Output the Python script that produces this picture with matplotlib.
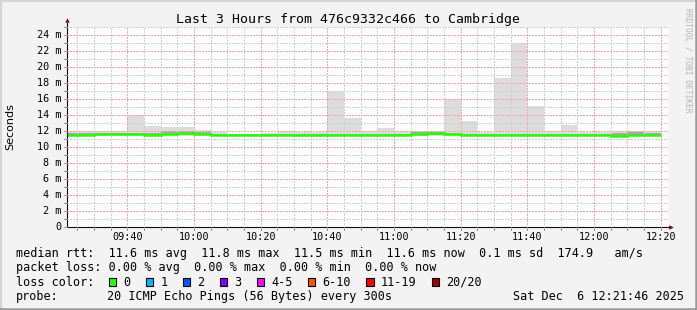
import numpy as np
import matplotlib
matplotlib.use("Agg")
import matplotlib.pyplot as plt
from matplotlib.patches import Rectangle
from matplotlib.lines import Line2D

W, H = 697, 310

# 5 minute steps, first one starts at 09:20
first_start = "09:20"
step_min = 5
smoke_max = [12.0, 12.0, 12.0, 12.0, 14.0, 12.65, 12.5, 12.5, 12.15, 11.95, 11.7, 11.7,
             11.8, 12.0, 11.9, 11.9, 17.0, 13.65, 12.05, 12.45, 12.0, 12.1, 12.05, 16.0,
             13.3, 11.9, 18.7, 23.0, 15.2, 12.0, 12.8, 11.9, 11.9, 12.0, 12.05, 12.05]
smoke_min = [11.45, 11.45, 11.45, 11.45, 11.45, 11.4, 11.45, 11.45, 11.45, 11.45, 11.45, 11.45,
             11.45, 11.45, 11.3, 11.35, 11.45, 11.45, 11.45, 11.45, 11.45, 11.4, 11.45, 11.45,
             11.45, 11.45, 11.45, 11.45, 11.45, 11.45, 11.45, 11.45, 11.45, 11.3, 11.45, 11.45]
inner_hi = [11.8, 11.8, 11.8, 11.8, 11.8, 11.75, 12.0, 12.05, 11.95, 11.7, 11.65, 11.65,
            11.65, 11.7, 11.7, 11.7, 11.7, 11.7, 11.7, 11.7, 11.7, 11.95, 11.95, 11.85,
            11.7, 11.7, 11.7, 11.7, 11.7, 11.7, 11.7, 11.7, 11.7, 11.85, 11.9, 11.8]
inner_lo = [11.5, 11.5, 11.5, 11.5, 11.5, 11.45, 11.55, 11.6, 11.5, 11.45, 11.45, 11.45,
            11.45, 11.45, 11.4, 11.45, 11.45, 11.45, 11.45, 11.45, 11.45, 11.5, 11.6, 11.5,
            11.45, 11.45, 11.45, 11.45, 11.45, 11.45, 11.45, 11.45, 11.45, 11.35, 11.5, 11.45]
median = [11.6, 11.6, 11.62, 11.62, 11.62, 11.55, 11.7, 11.8, 11.65, 11.55, 11.55, 11.55,
          11.55, 11.58, 11.55, 11.55, 11.55, 11.55, 11.55, 11.55, 11.55, 11.7, 11.8, 11.62,
          11.55, 11.55, 11.58, 11.58, 11.55, 11.58, 11.55, 11.55, 11.55, 11.42, 11.55, 11.55]

xtick_labels = ["09:40", "10:00", "10:20", "10:40", "11:00", "11:20", "11:40", "12:00", "12:20"]
ytick_values = list(range(0, 25, 2))

title = "Last 3 Hours from 476c9332c466 to Cambridge"
rtt_stats = [("11.6", "avg"), ("11.8", "max"), ("11.5", "min"), ("11.6", "now")]
rtt_sd = "0.1"
rtt_am = "174.9"
loss_stats = [("0.00", "avg"), ("0.00", "max"), ("0.00", "min"), ("0.00", "now")]
loss_labels = ["0", "1", "2", "3", "4-5", "6-10", "11-19", "20/20"]
loss_colors = ["#26ff00", "#00b8ff", "#0059ff", "#7e00ff", "#ff00ff", "#ff5500", "#ff0000", "#a00000"]
probe_text = "20 ICMP Echo Pings (56 Bytes) every 300s"
stamp = "Sat Dec  6 12:21:46 2025"


def to_min(s):
    h, m = s.split(":")
    return int(h) * 60 + int(m) - 9 * 60


def fx(x):
    return x / W


def fy(y):
    return 1 - y / H


mono = "DejaVu Sans Mono"
fig = plt.figure(figsize=(W / 100, H / 100), dpi=100, facecolor="#f3f3f3")

# plot area in pixels: x 66.7..668, y 27.3..227.3
ax = fig.add_axes([fx(66.7), fy(227.3), (668 - 66.7) / W, 200 / H])
ax.set_facecolor("white")
x0 = to_min("09:21") + 46 / 60
ax.set_xlim(x0, x0 + 180.4)
ax.set_ylim(0, 25)

edges = to_min(first_start) + step_min * np.arange(len(median) + 1)
ax.stairs(smoke_max, edges, baseline=smoke_min, fill=True, color="#dcdcdc", lw=0, zorder=1)
ax.stairs(inner_hi, edges, baseline=inner_lo, fill=True, color="#a8a8a8", lw=0, zorder=1.1)

# grid, dotted like rrdtool
dots = (0, (2, 2))
minor_c = "#cfcfcf"
major_c = "#eeaaaa"
for v in range(1, 26):
    major = v % 2 == 0 and v < 25
    ax.axhline(v, color=major_c if major else minor_c, lw=0.72, ls=dots,
               antialiased=False, zorder=2)
tmaj = [to_min(t) for t in xtick_labels]
for t in np.arange(25, 205, 5):
    ax.axvline(t, color=major_c if t in tmaj else minor_c, lw=0.72, ls=dots,
               antialiased=False, zorder=2)

ax.stairs(median, edges, baseline=None, color="#26ff00", lw=1.8, zorder=3)

for s in ax.spines.values():
    s.set_visible(False)
ax.set_xticks([])
ax.set_yticks([])

# axes with arrows
xa = ax.get_xlim()[0]
ax.plot([xa, xa], [0, 25.6], color="#101010", lw=0.8, clip_on=False, zorder=4)
ax.plot([xa, xa + (670 - 66.7) / 3.3333], [0, 0], color="#101010", lw=0.8, clip_on=False, zorder=4)
ax.plot([xa], [25.95], marker="^", ms=3.2, color="#800000", mew=0, clip_on=False, zorder=5)
ax.plot([xa + (671.5 - 66.7) / 3.3333], [0], marker=">", ms=3.2, color="#800000", mew=0,
        clip_on=False, zorder=5)

# small tick marks outside the axes
for t in np.arange(25, 205, 5):
    xp = 66.7 + (t - x0) * 3.3333
    c = "#e08080" if t in tmaj else "#999999"
    fig.add_artist(Line2D([fx(xp)] * 2, [fy(227.3), fy(230)], color=c, lw=0.72))
for v in range(0, 26):
    yp = 227.3 - 8 * v
    c = "#e08080" if v % 2 == 0 else "#999999"
    fig.add_artist(Line2D([fx(64), fx(66.7)], [fy(yp)] * 2, color=c, lw=0.72))

# tick labels
for lab in xtick_labels:
    xp = 66.7 + (to_min(lab) - x0) * 3.3333
    fig.text(fx(xp), fy(237.5), lab, ha="center", va="center", family=mono, fontsize=7.3)
for v in ytick_values:
    lab = "0" if v == 0 else f"{v} m"
    fig.text(fx(61), fy(227.3 - 8 * v), lab, ha="right", va="center", family=mono, fontsize=7.3)

fig.text(fx(348), fy(19), title, ha="center", va="center", family=mono, fontsize=9.5)
fig.text(fx(10.5), fy(127), "Seconds", rotation=90, ha="center", va="center",
         family="DejaVu Sans", fontsize=8)
fig.text(fx(688), fy(60), "RRDTOOL / TOBI OETIKER", rotation=270, ha="center", va="center",
         family=mono, fontsize=5.7, color="#b4b4b4")

# legend
cw = 7.12
fs = 8.5
row1 = "median rtt:  " + "  ".join(f"{v} ms {k}" for v, k in rtt_stats) + f"  {rtt_sd} ms sd  {rtt_am}   am/s"
row2 = "packet loss: " + "  ".join(f"{v} % {k}" for v, k in loss_stats)
fig.text(fx(16), fy(254), row1, ha="left", va="center", family=mono, fontsize=fs)
fig.text(fx(16), fy(268), row2, ha="left", va="center", family=mono, fontsize=fs)
fig.text(fx(16), fy(282), "loss color:", ha="left", va="center", family=mono, fontsize=fs)
bx = 108.7
for lab, col in zip(loss_labels, loss_colors):
    fig.add_artist(Rectangle((fx(bx), fy(285.7)), 7.3 / W, 8 / H, facecolor=col,
                             edgecolor="black", lw=0.8, transform=fig.transFigure))
    fig.text(fx(bx + 14.6), fy(282), lab, ha="left", va="center", family=mono, fontsize=fs)
    bx = bx + 14.6 + len(lab) * cw + 15.3
fig.text(fx(16), fy(296.5), "probe:", ha="left", va="center", family=mono, fontsize=fs)
fig.text(fx(107.3), fy(296.5), probe_text, ha="left", va="center", family=mono, fontsize=fs)
fig.text(fx(513), fy(296.5), stamp, ha="left", va="center", family=mono, fontsize=fs)

# image border shading
fig.add_artist(Line2D([0, 1], [fy(0.5)] * 2, color="#d4d4d4", lw=1.5))
fig.add_artist(Line2D([fx(0.5)] * 2, [0, 1], color="#d4d4d4", lw=1.5))
fig.add_artist(Line2D([0, 1], [fy(309)] * 2, color="#9a9a9a", lw=1.8))
fig.add_artist(Line2D([fx(696)] * 2, [0, 1], color="#9a9a9a", lw=1.8))

fig.savefig("out.png", dpi=100, facecolor=fig.get_facecolor())
